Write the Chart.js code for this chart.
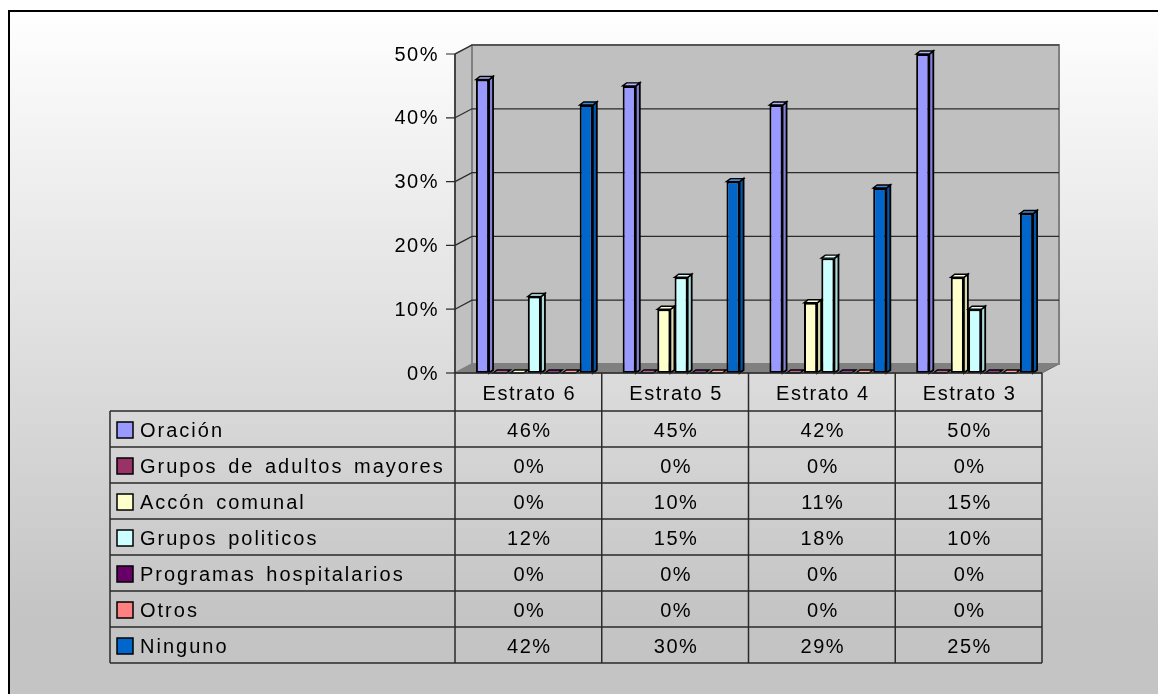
<!DOCTYPE html>
<html>
<head>
<meta charset="utf-8">
<title>Participación por estrato</title>
<script src="https://cdn.jsdelivr.net/npm/chart.js@4.4.1/dist/chart.umd.min.js"></script>
<style>
  html, body { margin: 0; padding: 0; background: #fff; }
  canvas { display: block; }
</style>
</head>
<body>
<canvas id="chart" width="1158" height="694"></canvas>
<script>
// estratos (columnas de la tabla)
const categories = ['Estrato 6', 'Estrato 5', 'Estrato 4', 'Estrato 3'];

// series, una por fila de la tabla
const seriesNames = [
  'Oración',
  'Grupos de adultos mayores',
  'Accón comunal',
  'Grupos politicos',
  'Programas hospitalarios',
  'Otros',
  'Ninguno',
];
const oracion = [0.46, 0.45, 0.42, 0.50];
const adultosMayores = [0, 0, 0, 0];
const accionComunal = [0, 0.10, 0.11, 0.15];
const gruposPoliticos = [0.12, 0.15, 0.18, 0.10];
const programasHospitalarios = [0, 0, 0, 0];
const otros = [0, 0, 0, 0];
const ninguno = [0.42, 0.30, 0.29, 0.25];

const yTicks = [0, 0.1, 0.2, 0.3, 0.4, 0.5];

const seriesValues = [oracion, adultosMayores, accionComunal, gruposPoliticos, programasHospitalarios, otros, ninguno];
const seriesColors = ['#9999ff', '#993366', '#ffffcc', '#ccffff', '#660066', '#ff8080', '#0066cc'];

// geometry of the fake 3D box
const WALL_DX = 17, WALL_DY = -9;
const BAR_DX = 4, BAR_DY = -3;
const SHIFT = 6;            // columns sit a bit deeper than the front edge
const HEADER_H = 38, ROW_H = 36;
const TABLE_LEFT = 110;
const FONT = '20px "Liberation Sans", Arial, sans-serif';
const SPACING = '1.5px';

function shade(hex, f) {
  const n = parseInt(hex.slice(1), 16);
  let r = (n >> 16) & 255, g = (n >> 8) & 255, b = n & 255;
  if (f < 1) {
    r *= f; g *= f; b *= f;
  } else {
    const t = f - 1;
    r += (255 - r) * t; g += (255 - g) * t; b += (255 - b) * t;
  }
  return `rgb(${Math.round(r)},${Math.round(g)},${Math.round(b)})`;
}

function pct(v) {
  return Math.round(v * 100) + '%';
}

function poly(ctx, pts, fill, stroke, lw) {
  ctx.beginPath();
  ctx.moveTo(pts[0][0], pts[0][1]);
  for (let i = 1; i < pts.length; i++) ctx.lineTo(pts[i][0], pts[i][1]);
  ctx.closePath();
  if (fill) { ctx.fillStyle = fill; ctx.fill(); }
  if (stroke) { ctx.strokeStyle = stroke; ctx.lineWidth = lw || 1; ctx.stroke(); }
}

function frontBox(chart) {
  const { chartArea, scales } = chart;
  return {
    left: chartArea.left - SHIFT,
    right: chartArea.right - SHIFT,
    top: scales.y.getPixelForValue(scales.y.max),
    bottom: scales.y.getPixelForValue(0),
  };
}

const box3d = {
  id: 'box3d',
  beforeDraw(chart) {
    const { ctx, width, height } = chart;
    ctx.save();
    ctx.fillStyle = '#fff';
    ctx.fillRect(0, 0, width, height);
    const g = ctx.createLinearGradient(0, 10, 0, 620);
    g.addColorStop(0, '#ffffff');
    g.addColorStop(1, '#c4c4c4');
    ctx.fillStyle = g;
    ctx.fillRect(8, 10, width - 8, height - 10);
    ctx.strokeStyle = '#000';
    ctx.lineWidth = 2;
    ctx.beginPath();
    ctx.moveTo(9, height);
    ctx.lineTo(9, 11);
    ctx.lineTo(width, 11);
    ctx.stroke();
    ctx.restore();
  },
  beforeDatasetsDraw(chart) {
    const { ctx, scales: { y } } = chart;
    const b = frontBox(chart);
    ctx.save();
    // floor
    poly(ctx, [[b.left, b.bottom], [b.right, b.bottom], [b.right + WALL_DX, b.bottom + WALL_DY], [b.left + WALL_DX, b.bottom + WALL_DY]], '#808080', '#6a6a6a', 1);
    // side wall
    poly(ctx, [[b.left, b.bottom], [b.left, b.top], [b.left + WALL_DX, b.top + WALL_DY], [b.left + WALL_DX, b.bottom + WALL_DY]], '#c0c0c0', '#808080', 1.5);
    // back wall
    poly(ctx, [[b.left + WALL_DX, b.top + WALL_DY], [b.right + WALL_DX, b.top + WALL_DY], [b.right + WALL_DX, b.bottom + WALL_DY], [b.left + WALL_DX, b.bottom + WALL_DY]], '#c0c0c0', '#808080', 2);

    // gridlines on back and side walls, plus ticks and labels
    ctx.font = FONT;
    ctx.letterSpacing = SPACING;
    ctx.textAlign = 'right';
    ctx.textBaseline = 'middle';
    yTicks.forEach((v) => {
      const py = y.getPixelForValue(v);
      ctx.strokeStyle = '#2a2a2a';
      ctx.lineWidth = 1.2;
      ctx.beginPath();
      if (v > 0) {
        ctx.moveTo(b.left, py);
        ctx.lineTo(b.left + WALL_DX, py + WALL_DY);
        ctx.lineTo(b.right + WALL_DX, py + WALL_DY);
      }
      ctx.moveTo(b.left - 9, py);
      ctx.lineTo(b.left, py);
      ctx.stroke();
      ctx.fillStyle = '#000';
      ctx.fillText(pct(v), b.left - 16, py + 1);
    });
    ctx.restore();
  },
  afterDatasetsDraw(chart) {
    const { ctx } = chart;
    ctx.save();
    chart.data.datasets.forEach((ds, di) => {
      const color = seriesColors[di];
      chart.getDatasetMeta(di).data.forEach((bar) => {
        const l = bar.x - bar.width / 2, r = bar.x + bar.width / 2;
        // right side face
        if (bar.base - bar.y > 0.5) {
          poly(ctx, [[r, bar.y], [r + BAR_DX, bar.y + BAR_DY], [r + BAR_DX, bar.base + BAR_DY], [r, bar.base]], shade(color, 0.85), '#000', 1.8);
        }
        // top face
        poly(ctx, [[l, bar.y], [l + BAR_DX, bar.y + BAR_DY], [r + BAR_DX, bar.y + BAR_DY], [r, bar.y]], shade(color, 1.25), '#000', 1.4);
      });
    });
    ctx.restore();
  },
  afterDraw(chart) {
    const { ctx, scales: { x } } = chart;
    const b = frontBox(chart);
    const colW = (b.right - b.left) / categories.length;
    const rowsTop = b.bottom + HEADER_H;
    const tableBottom = rowsTop + ROW_H * seriesNames.length;

    ctx.save();
    ctx.strokeStyle = '#2a2a2a';
    ctx.lineWidth = 1.5;
    ctx.beginPath();
    // header top edge (front of floor) and row separators
    ctx.moveTo(b.left, b.bottom);
    ctx.lineTo(b.right, b.bottom);
    for (let i = 0; i <= seriesNames.length; i++) {
      const yy = rowsTop + i * ROW_H;
      ctx.moveTo(TABLE_LEFT, yy);
      ctx.lineTo(b.right, yy);
    }
    // verticals
    ctx.moveTo(TABLE_LEFT, rowsTop);
    ctx.lineTo(TABLE_LEFT, tableBottom);
    ctx.moveTo(b.left, b.top);
    ctx.lineTo(b.left, tableBottom);
    for (let c = 1; c <= categories.length; c++) {
      const xx = b.left + c * colW;
      ctx.moveTo(xx, b.bottom);
      ctx.lineTo(xx, tableBottom);
    }
    ctx.stroke();

    ctx.font = FONT;
    ctx.letterSpacing = SPACING;
    ctx.fillStyle = '#000';
    ctx.textBaseline = 'middle';
    ctx.textAlign = 'center';
    categories.forEach((cat, c) => {
      const cx = x.getPixelForValue(c) - SHIFT;
      ctx.fillText(cat, cx + 1, b.bottom + HEADER_H / 2 + 2);
      seriesValues.forEach((vals, r) => {
        ctx.fillText(pct(vals[c]), cx + 1, rowsTop + r * ROW_H + ROW_H / 2 + 2);
      });
    });

    // legend keys in the first column
    ctx.letterSpacing = '2px';
    ctx.wordSpacing = '3px';
    seriesNames.forEach((name, r) => {
      const cy = rowsTop + r * ROW_H + ROW_H / 2;
      ctx.fillStyle = seriesColors[r];
      ctx.fillRect(117, cy - 7, 16, 16);
      ctx.strokeStyle = '#000';
      ctx.lineWidth = 1.5;
      ctx.strokeRect(117, cy - 7, 16, 16);
      ctx.fillStyle = '#000';
      ctx.textAlign = 'left';
      ctx.fillText(name, 140, cy + 2);
    });
    ctx.restore();
  },
};

const datasets = seriesNames.map((name, i) => ({
  label: name,
  data: seriesValues[i],
  backgroundColor: seriesColors[i],
  borderColor: '#000',
  borderWidth: 2,
  borderSkipped: false,
  barPercentage: 0.76,
  categoryPercentage: 0.825,
}));

new Chart(document.getElementById('chart'), {
  type: 'bar',
  data: { labels: categories, datasets },
  options: {
    responsive: false,
    animation: false,
    layout: { padding: { left: 461, right: 110, top: 54, bottom: 321 } },
    scales: {
      x: { display: false },
      y: { display: false, min: 0, max: 0.5 },
    },
    plugins: {
      legend: { display: false },
      tooltip: { enabled: false },
    },
  },
  plugins: [box3d],
});
</script>
</body>
</html>
